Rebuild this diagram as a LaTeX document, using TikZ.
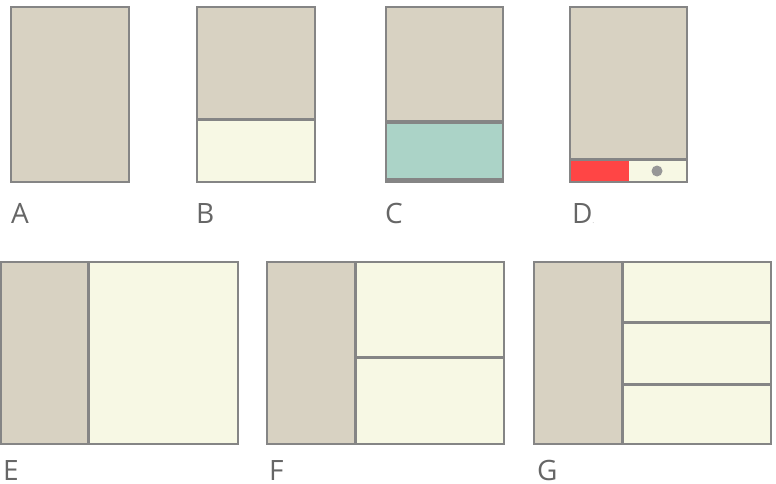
\documentclass[tikz,border=0pt]{standalone}
\usepackage{fontspec}
\setsansfont{Open Sans}
\definecolor{panelbeige}{HTML}{D8D2C2}
\definecolor{panelcream}{HTML}{F7F8E4}
\definecolor{panelteal}{HTML}{ABD3C7}
\definecolor{panelred}{HTML}{FF4545}
\definecolor{edgegray}{HTML}{858585}
\definecolor{labelgray}{HTML}{666666}
\tikzset{
  frame/.style={draw=edgegray, line width=2pt},
  split/.style={draw=edgegray, line width=3pt},
  caption/.style={anchor=base west, inner sep=0pt, text=labelgray,
    font=\sffamily\fontsize{28}{30}\selectfont}
}
\begin{document}
\begin{tikzpicture}[x=1pt, y=-1pt]
    \useasboundingbox (0,0) rectangle (776,484);
        % top row: phone layouts
        \begin{scope}
            \fill[panelbeige] (11,7) rectangle (129,182);
            \draw[frame] (11,7) rectangle (129,182);
            \node[caption] (capA) at (11,223) {A};
        \end{scope}
        \begin{scope}
            \fill[panelbeige] (197,7) rectangle (315,120);
            \fill[panelcream] (197,120) rectangle (315,182);
            \draw[split] (197,120) -- (315,120);
            \draw[frame] (197,7) rectangle (315,182);
            \node[caption] (capB) at (196,223) {B};
        \end{scope}
        \begin{scope}
            \fill[panelbeige] (386,7) rectangle (503,122);
            \fill[panelteal] (386,122) rectangle (503,179);
            \draw[draw=edgegray, line width=4pt] (386,122) -- (503,122);
            \draw[split] (386,179) -- (503,179);
            \draw[frame] (386,7) rectangle (503,182);
            \node[caption] (capC) at (385,223) {C};
        \end{scope}
        \begin{scope}
            \fill[panelbeige] (570,7) rectangle (687,160);
            \fill[panelred] (570,160) rectangle (629,182);
            \fill[panelcream] (629,160) rectangle (687,182);
            \draw[split] (570,159.5) -- (687,159.5);
            \fill[edgegray!85] (657,171) circle (5.5);
            \draw[frame] (570,7) rectangle (687,182);
            \node[caption] (capD) at (572,223) {D{\tiny.}};
        \end{scope}
        % bottom row: tablet layouts
        \begin{scope}
            \fill[panelbeige] (1,262) rectangle (88,444);
            \fill[panelcream] (88,262) rectangle (238,444);
            \draw[split] (88,262) -- (88,444);
            \draw[frame] (1,262) rectangle (238,444);
            \node[caption] (capE) at (3,480) {E};
        \end{scope}
        \begin{scope}
            \fill[panelbeige] (267,262) rectangle (355,444);
            \fill[panelcream] (355,262) rectangle (504,444);
            \draw[split] (355,262) -- (355,444);
            \draw[split] (355,357) -- (504,357);
            \draw[frame] (267,262) rectangle (504,444);
            \node[caption] (capF) at (269,480) {F};
        \end{scope}
        \begin{scope}
            \fill[panelbeige] (534,262) rectangle (622,444);
            \fill[panelcream] (622,262) rectangle (771,444);
            \draw[split] (622,262) -- (622,444);
            \draw[split] (622,322) -- (771,322);
            \draw[split] (622,384) -- (771,384);
            \draw[frame] (534,262) rectangle (771,444);
            \node[caption] (capG) at (537,480) {G};
        \end{scope}
    \end{tikzpicture}
\end{document}
